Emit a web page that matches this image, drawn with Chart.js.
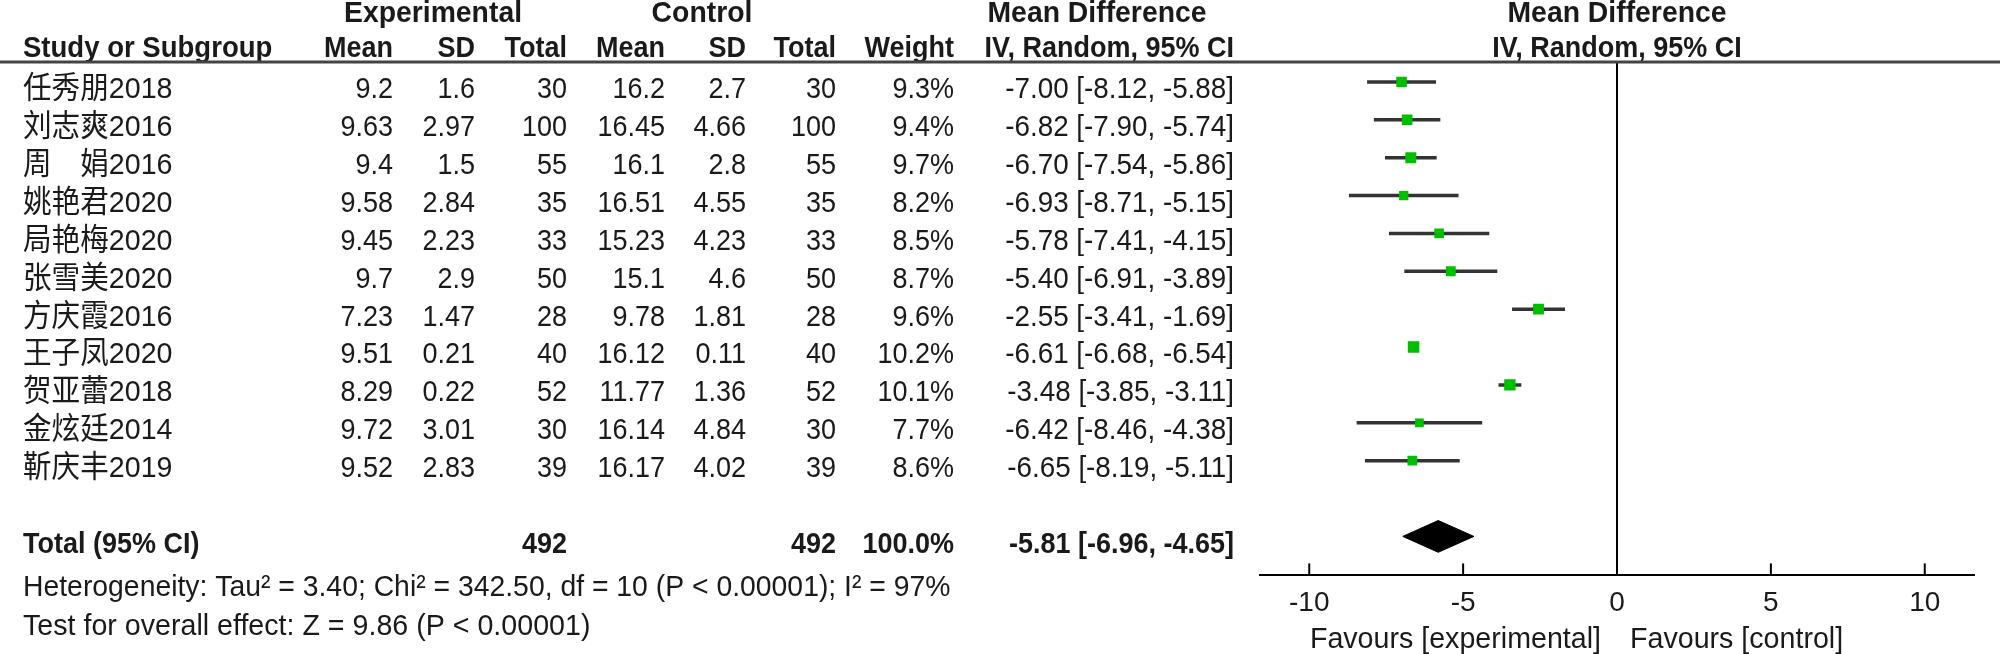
<!DOCTYPE html>
<html>
<head>
<meta charset="utf-8">
<script src="https://cdn.jsdelivr.net/npm/chart.js@4.4.0/dist/chart.umd.min.js"></script>
<style>
html, body { margin: 0; padding: 0; background: #fff; }
#wrap { width: 2000px; height: 654px; }
</style>
</head>
<body>
<div id="wrap"><canvas id="forest"></canvas></div>
<script>
var studies = ["任秀朋2018", "刘志爽2016", "周　娟2016", "姚艳君2020", "局艳梅2020", "张雪美2020",
               "方庆霞2016", "王子凤2020", "贺亚蕾2018", "金炫廷2014", "靳庆丰2019"];
var expMean = [9.2, 9.63, 9.4, 9.58, 9.45, 9.7, 7.23, 9.51, 8.29, 9.72, 9.52];
var expSD = [1.6, 2.97, 1.5, 2.84, 2.23, 2.9, 1.47, 0.21, 0.22, 3.01, 2.83];
var expN = [30, 100, 55, 35, 33, 50, 28, 40, 52, 30, 39];
var ctlMean = [16.2, 16.45, 16.1, 16.51, 15.23, 15.1, 9.78, 16.12, 11.77, 16.14, 16.17];
var ctlSD = [2.7, 4.66, 2.8, 4.55, 4.23, 4.6, 1.81, 0.11, 1.36, 4.84, 4.02];
var ctlN = [30, 100, 55, 35, 33, 50, 28, 40, 52, 30, 39];
var weight = [9.3, 9.4, 9.7, 8.2, 8.5, 8.7, 9.6, 10.2, 10.1, 7.7, 8.6];
var md = [-7.00, -6.82, -6.70, -6.93, -5.78, -5.40, -2.55, -6.61, -3.48, -6.42, -6.65];
var ciLow = [-8.12, -7.90, -7.54, -8.71, -7.41, -6.91, -3.41, -6.68, -3.85, -8.46, -8.19];
var ciHigh = [-5.88, -5.74, -5.86, -5.15, -4.15, -3.89, -1.69, -6.54, -3.11, -4.38, -5.11];

var totalExpN = 492;
var totalCtlN = 492;
var pooled = [-5.81, -6.96, -4.65];   // estimate, low, high
var xTicks = [-10, -5, 0, 5, 10];
var heterogeneity = "Heterogeneity: Tau\u00b2 = 3.40; Chi\u00b2 = 342.50, df = 10 (P < 0.00001); I\u00b2 = 97%";
var overallEffect = "Test for overall effect: Z = 9.86 (P < 0.00001)";

var FONT = '"Liberation Sans", Arial, "Noto Sans CJK SC", sans-serif';
var totalRow = studies.length + 2;
var TEXT_DROP = 8;   // table text sits a little below the plotted marks

var squares = studies.map(function (s, i) { return { x: md[i], y: i + 1 }; });

var datasets = [{
    data: squares,
    showLine: false,
    pointStyle: "rect",
    backgroundColor: "#00bf00",
    borderWidth: 0,
    pointRadius: function (c) { return weight[c.dataIndex] * 0.8; },
    order: 0
}, {
    // pooled diamond
    data: [
        { x: pooled[1], y: totalRow },
        { x: pooled[0], y: totalRow - 0.42 },
        { x: pooled[2], y: totalRow },
        { x: pooled[0], y: totalRow + 0.42 },
        { x: pooled[1], y: totalRow }
    ],
    showLine: true,
    fill: "shape",
    backgroundColor: "#000",
    borderColor: "#000",
    borderWidth: 1,
    pointRadius: 0,
    tension: 0,
    order: 1
}];

studies.forEach(function (s, i) {
    datasets.push({
        data: [{ x: ciLow[i], y: i + 1 }, { x: ciHigh[i], y: i + 1 }],
        showLine: true,
        borderColor: "#333",
        borderWidth: 3.5,
        pointRadius: 0,
        order: 2
    });
});

// text is a bit taller than plain Arial in the original, words a bit wider
function txt(ctx, s, x, y, align, bold, sx) {
    ctx.save();
    ctx.font = (bold ? "bold " : "") + "27px " + FONT;
    ctx.textAlign = align;
    ctx.translate(x, y);
    ctx.scale(sx || 1, 1.12);
    ctx.fillText(s, 0, 0);
    ctx.restore();
}

var tablePlugin = {
    id: "forestTable",
    afterDraw: function (chart) {
        var ctx = chart.ctx;
        var xs = chart.scales.x, ys = chart.scales.y, area = chart.chartArea;
        var zx = xs.getPixelForValue(0);
        ctx.save();
        ctx.fillStyle = "#1a1a1a";
        ctx.textBaseline = "middle";

        // column headers
        txt(ctx, "Experimental", 433, 14, "center", true, 1.05);
        txt(ctx, "Control", 702, 14, "center", true, 1.05);
        txt(ctx, "Mean Difference", 1097, 14, "center", true, 1.05);
        txt(ctx, "Mean Difference", zx, 14, "center", true, 1.05);
        txt(ctx, "Study or Subgroup", 23, 49, "left", true, 1.02);
        txt(ctx, "Mean", 393, 49, "right", true);
        txt(ctx, "SD", 475, 49, "right", true);
        txt(ctx, "Total", 567, 49, "right", true);
        txt(ctx, "Mean", 665, 49, "right", true);
        txt(ctx, "SD", 746, 49, "right", true);
        txt(ctx, "Total", 836, 49, "right", true);
        txt(ctx, "Weight", 954, 49, "right", true);
        txt(ctx, "IV, Random, 95% CI", 1234, 49, "right", true);
        txt(ctx, "IV, Random, 95% CI", zx, 49, "center", true);

        ctx.strokeStyle = "#444";
        ctx.lineWidth = 3;
        ctx.beginPath();
        ctx.moveTo(0, area.top);
        ctx.lineTo(2000, area.top);
        ctx.stroke();

        // study rows
        studies.forEach(function (s, i) {
            var py = ys.getPixelForValue(i + 1) + TEXT_DROP;
            txt(ctx, s, 23, py, "left", false, 1.06);
            txt(ctx, String(expMean[i]), 393, py, "right", false);
            txt(ctx, String(expSD[i]), 475, py, "right", false);
            txt(ctx, String(expN[i]), 567, py, "right", false);
            txt(ctx, String(ctlMean[i]), 665, py, "right", false);
            txt(ctx, String(ctlSD[i]), 746, py, "right", false);
            txt(ctx, String(ctlN[i]), 836, py, "right", false);
            txt(ctx, weight[i].toFixed(1) + "%", 954, py, "right", false);
            txt(ctx, md[i].toFixed(2) + " [" + ciLow[i].toFixed(2) + ", " + ciHigh[i].toFixed(2) + "]", 1234, py, "right", false, 1.03);
        });

        // total row
        var ty = ys.getPixelForValue(totalRow) + TEXT_DROP;
        txt(ctx, "Total (95% CI)", 23, ty, "left", true);
        txt(ctx, String(totalExpN), 567, ty, "right", true);
        txt(ctx, String(totalCtlN), 836, ty, "right", true);
        txt(ctx, "100.0%", 954, ty, "right", true);
        txt(ctx, pooled[0].toFixed(2) + " [" + pooled[1].toFixed(2) + ", " + pooled[2].toFixed(2) + "]", 1234, ty, "right", true);

        txt(ctx, heterogeneity, 23, 588, "left", false, 1.05);
        txt(ctx, overallEffect, 23, 627, "left", false, 1.06);

        // tick marks above the axis line
        ctx.strokeStyle = "#000";
        ctx.lineWidth = 2;
        xTicks.forEach(function (v) {
            var px = xs.getPixelForValue(v);
            ctx.beginPath();
            ctx.moveTo(px, area.bottom - 12);
            ctx.lineTo(px, area.bottom);
            ctx.stroke();
        });

        txt(ctx, "Favours [experimental]", zx - 16, 640, "right", false, 1.06);
        txt(ctx, "Favours [control]", zx + 13, 640, "left", false, 1.06);
        ctx.restore();
    }
};

new Chart(document.getElementById("forest"), {
    type: "scatter",
    data: { datasets: datasets },
    options: {
        responsive: true,
        maintainAspectRatio: false,
        animation: false,
        devicePixelRatio: 1,
        layout: { padding: { left: 1260, right: 26, top: 62, bottom: 23 } },
        plugins: { legend: { display: false }, tooltip: { enabled: false } },
        scales: {
            x: {
                type: "linear",
                min: -11.6,
                max: 11.6,
                afterBuildTicks: function (axis) {
                    axis.ticks = xTicks.map(function (v) { return { value: v }; });
                },
                ticks: {
                    font: { family: FONT, size: 28 },
                    color: "#1a1a1a",
                    padding: 11,
                    maxRotation: 0,
                    autoSkip: false
                },
                grid: {
                    display: true,
                    drawOnChartArea: true,
                    drawTicks: false,
                    lineWidth: 2,
                    color: function (c) {
                        return c.tick && c.tick.value === 0 ? "#000" : "rgba(0,0,0,0)";
                    }
                },
                border: { display: true, color: "#000", width: 2 }
            },
            y: {
                type: "linear",
                reverse: true,
                min: 0.474,
                max: 14.03,
                display: false
            }
        }
    },
    plugins: [tablePlugin]
});
</script>
</body>
</html>
